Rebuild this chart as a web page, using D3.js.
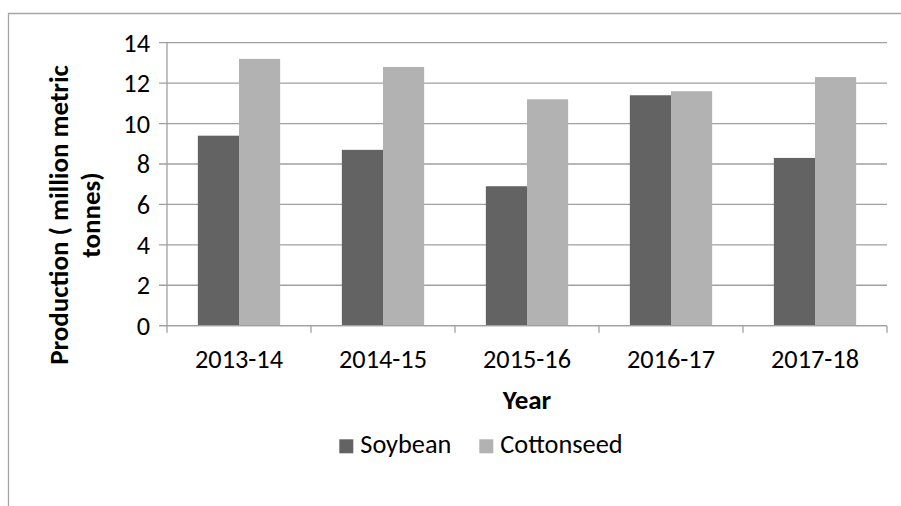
<!DOCTYPE html>
<html>
<head>
<meta charset="utf-8">
<script src="https://cdn.jsdelivr.net/npm/d3@7"></script>
<style>
  body { margin: 0; background: #fff; }
  svg { display: block; font-family: Carlito, Calibri, Lato, sans-serif; }
</style>
</head>
<body>
<script>
const years = ["2013-14", "2014-15", "2015-16", "2016-17", "2017-18"];
const seriesNames = ["Soybean", "Cottonseed"];
const soybean = [9.4, 8.7, 6.9, 11.4, 8.3];
const cottonseed = [13.2, 12.8, 11.2, 11.6, 12.3];
const yTicks = [0, 2, 4, 6, 8, 10, 12, 14];
const colors = ["#636363", "#b2b2b2"];

const width = 901, height = 506;
const plot = { left: 167, right: 887, top: 42.7, bottom: 325.7 };
const fontSize = 26.3;

const svg = d3.select("body").append("svg")
    .attr("width", width)
    .attr("height", height);

// outer chart border (clipped at right and bottom like the source)
svg.append("path")
    .attr("d", "M8.5," + height + "V13.5H" + width)
    .attr("fill", "none")
    .attr("stroke", "#a6a6a6")
    .attr("stroke-width", 1.3);

let x0 = d3.scaleBand()
    .domain(years)
    .range([plot.left, plot.right]);

let x1 = d3.scaleBand()
    .domain(seriesNames)
    .range([0, x0.bandwidth()])
    .paddingOuter(0.75);

let y = d3.scaleLinear()
    .domain([0, 14])
    .range([plot.bottom, plot.top]);

// gridlines
svg.append("g")
    .selectAll("line")
    .data(yTicks)
    .enter().append("line")
    .attr("x1", plot.left - 8)
    .attr("x2", plot.right)
    .attr("y1", d => y(d))
    .attr("y2", d => y(d))
    .attr("stroke", "#a0a0a0")
    .attr("stroke-width", 1.3);

// y axis line
svg.append("line")
    .attr("x1", plot.left).attr("x2", plot.left)
    .attr("y1", plot.top).attr("y2", plot.bottom)
    .attr("stroke", "#a0a0a0")
    .attr("stroke-width", 1.3);

// category tick marks
svg.append("g")
    .selectAll("line")
    .data(years.concat(["end"]))
    .enter().append("line")
    .attr("x1", (d, i) => plot.left + i * x0.step())
    .attr("x2", (d, i) => plot.left + i * x0.step())
    .attr("y1", plot.bottom)
    .attr("y2", plot.bottom + 7)
    .attr("stroke", "#a0a0a0")
    .attr("stroke-width", 1.3);

// bars
let rows = years.map((yr, i) => ({ year: yr, values: [soybean[i], cottonseed[i]] }));

let groups = svg.append("g")
    .selectAll("g")
    .data(rows)
    .enter().append("g")
    .attr("transform", d => "translate(" + x0(d.year) + ",0)");

groups.selectAll("rect")
    .data(d => d.values.map((v, j) => ({ name: seriesNames[j], value: v, j: j })))
    .enter().append("rect")
    .attr("x", d => x1(d.name))
    .attr("width", x1.bandwidth())
    .attr("y", d => y(d.value))
    .attr("height", d => y(0) - y(d.value))
    .attr("fill", d => colors[d.j]);

// x axis line on top of bars
svg.append("line")
    .attr("x1", plot.left - 8).attr("x2", plot.right)
    .attr("y1", plot.bottom).attr("y2", plot.bottom)
    .attr("stroke", "#a0a0a0")
    .attr("stroke-width", 1.3);

// y tick labels
svg.append("g")
    .selectAll("text")
    .data(yTicks)
    .enter().append("text")
    .attr("x", 150)
    .attr("y", d => y(d))
    .attr("dy", "0.35em")
    .attr("text-anchor", "end")
    .attr("font-size", fontSize)
    .attr("fill", "#000")
    .text(d => d);

// category labels
svg.append("g")
    .selectAll("text")
    .data(years)
    .enter().append("text")
    .attr("x", d => x0(d) + x0.bandwidth() / 2)
    .attr("y", 368)
    .attr("text-anchor", "middle")
    .attr("font-size", fontSize)
    .text(d => d);

// x axis title
svg.append("text")
    .attr("x", 527)
    .attr("y", 409)
    .attr("text-anchor", "middle")
    .attr("font-size", 27)
    .attr("font-weight", "bold")
    .text("Year");

// y axis title (two lines)
let yTitle = svg.append("text")
    .attr("transform", "translate(0,215) rotate(-90)")
    .attr("text-anchor", "middle")
    .attr("font-size", 27)
    .attr("font-weight", "bold");
yTitle.append("tspan").attr("x", 0).attr("y", 68).text("Production ( million metric");
yTitle.append("tspan").attr("x", 0).attr("y", 100).text("tonnes)");

// legend
let legendX = [339.3, 479.3];
let legend = svg.append("g")
    .selectAll("g")
    .data(seriesNames)
    .enter().append("g")
    .attr("transform", (d, i) => "translate(" + legendX[i] + ",439.3)");

legend.append("rect")
    .attr("width", 14)
    .attr("height", 14)
    .attr("fill", (d, i) => colors[i]);

legend.append("text")
    .attr("x", 21)
    .attr("y", 14)
    .attr("font-size", fontSize)
    .text(d => d);
</script>
</body>
</html>
